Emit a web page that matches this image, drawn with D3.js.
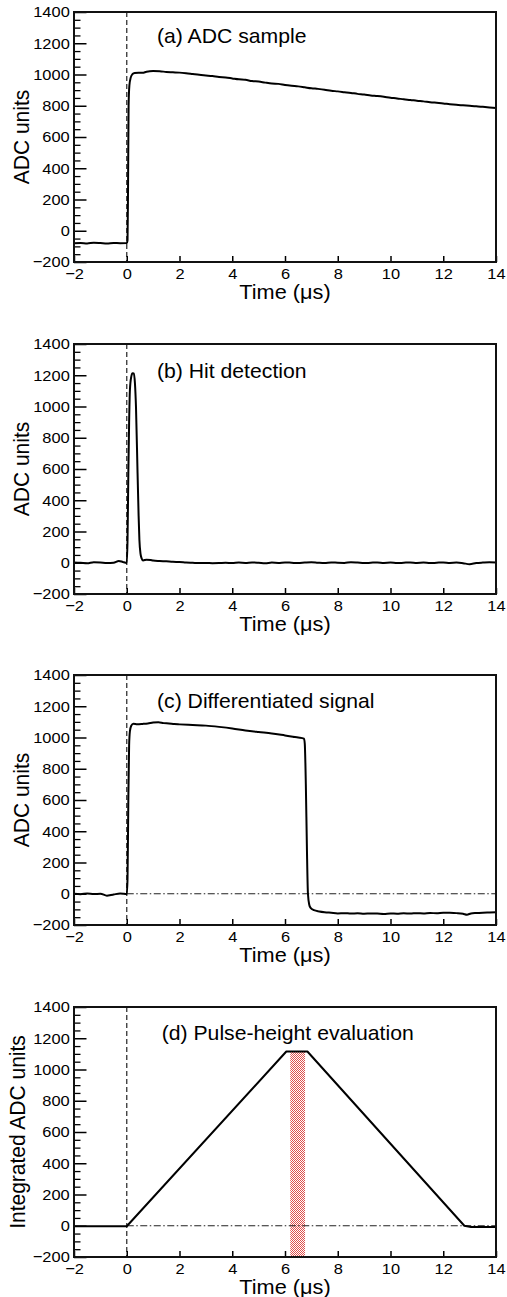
<!DOCTYPE html>
<html>
<head>
<meta charset="utf-8">
<script src="https://cdn.jsdelivr.net/npm/d3@7"></script>
<style>
  html, body { margin: 0; padding: 0; background: #fff; }
  svg { display: block; font-family: "Liberation Sans", Arial, Helvetica, sans-serif; }
</style>
</head>
<body>
<svg id="chart" width="507" height="1297"></svg>
<script>
// ---------------- DATA ----------------
const xTickValues = [-2, 0, 2, 4, 6, 8, 10, 12, 14];
const yTickValues = [-200, 0, 200, 400, 600, 800, 1000, 1200, 1400];
const panelLabels = ["(a) ADC sample", "(b) Hit detection", "(c) Differentiated signal", "(d) Pulse-height evaluation"];
const yTitles = ["ADC units", "ADC units", "ADC units", "Integrated ADC units"];
const xTitle = "Time (\u03bcs)";

// (a) ADC sample
const timeA = [-2, -1.75, -1.5, -1.25, -1, -0.75, -0.5, -0.25, 0, 0.03, 0.05, 0.07, 0.1, 0.15, 0.22, 0.3, 0.45, 0.6, 0.75, 1, 1.25, 1.5, 1.75, 2, 2.25, 2.5, 2.75, 3, 3.25, 3.5, 3.75, 4, 4.25, 4.5, 4.75, 5, 5.25, 5.5, 5.75, 6, 6.25, 6.5, 6.75, 7, 7.25, 7.5, 7.75, 8, 8.25, 8.5, 8.75, 9, 9.25, 9.5, 9.75, 10, 10.25, 10.5, 10.75, 11, 11.25, 11.5, 11.75, 12, 12.25, 12.5, 12.75, 13, 13.25, 13.5, 13.75, 14];
const adcA = [-80, -78, -81, -77, -79, -82, -78, -80, -79, -60, 300, 800, 930, 980, 1003, 1010, 1012, 1011, 1018, 1022, 1021, 1016, 1014, 1012, 1008, 1003, 998, 994, 990, 984, 981, 975, 969, 966, 958, 955, 948, 942, 940, 933, 928, 924, 918, 912, 908, 903, 896, 892, 887, 882, 876, 872, 866, 862, 857, 851, 847, 841, 837, 832, 828, 823, 819, 815, 810, 806, 803, 800, 797, 793, 789, 785];

// (b) Hit detection
const timeB = [-2, -1.75, -1.5, -1.25, -1, -0.75, -0.5, -0.3, -0.15, -0.05, 0, 0.03, 0.06, 0.09, 0.12, 0.17, 0.22, 0.27, 0.31, 0.35, 0.41, 0.45, 0.48, 0.52, 0.56, 0.62, 0.75, 0.9, 1, 1.25, 1.5, 1.75, 2, 2.25, 2.5, 2.75, 3, 3.25, 3.5, 3.75, 4, 4.25, 4.5, 4.75, 5, 5.25, 5.5, 5.75, 6, 6.25, 6.5, 6.75, 7, 7.25, 7.5, 7.75, 8, 8.25, 8.5, 8.75, 9, 9.25, 9.5, 9.75, 10, 10.25, 10.5, 10.75, 11, 11.25, 11.5, 11.75, 12, 12.25, 12.5, 12.75, 13, 13.25, 13.5, 13.75, 14];
const adcB = [2, 0, -3, 4, 2, -2, 0, 12, 5, 0, -2, 150, 572, 900, 1106, 1190, 1213, 1212, 1150, 999, 572, 300, 146, 60, 30, 15, 20, 18, 14, 11, 9, 6, 5, 2, 0, -2, -1, -3, -2, 0, -2, 1, -1, 2, 0, -3, 1, -1, 2, 0, -2, 1, 3, 0, -2, 2, 0, -1, 3, 1, -2, 0, 2, -1, 1, -2, 0, 2, -1, 1, -2, 0, 2, -1, 1, -3, -9, -2, 1, 3, 2];

// (c) Differentiated signal
const timeC = [-2, -1.75, -1.5, -1.25, -1, -0.75, -0.6, -0.5, -0.25, -0.1, 0, 0.03, 0.06, 0.09, 0.12, 0.17, 0.25, 0.4, 0.6, 0.8, 1, 1.2, 1.4, 1.6, 1.8, 2, 2.5, 3, 3.5, 4, 4.5, 5, 5.5, 6, 6.3, 6.5, 6.72, 6.75, 6.79, 6.83, 6.87, 6.92, 6.97, 7.1, 7.3, 7.5, 7.75, 8, 8.25, 8.5, 8.75, 9, 9.25, 9.5, 9.75, 10, 10.25, 10.5, 10.75, 11, 11.25, 11.5, 11.75, 12, 12.25, 12.5, 12.75, 12.9, 13.05, 13.25, 13.5, 13.75, 14];
const adcC = [0, -3, 2, -2, 0, -12, -8, -5, 2, 0, -2, 100, 600, 950, 1040, 1075, 1088, 1085, 1087, 1090, 1096, 1098, 1092, 1090, 1086, 1084, 1080, 1076, 1068, 1058, 1045, 1035, 1026, 1013, 1005, 1000, 993, 960, 700, 300, 0, -70, -90, -105, -113, -118, -122, -126, -124, -127, -125, -128, -126, -127, -129, -126, -128, -125, -127, -124, -126, -123, -125, -121, -122, -124, -128, -134, -126, -123, -121, -120, -119];

// (d) Pulse-height evaluation
const timeD = [-2, 0, 6.05, 6.85, 12.8, 13.05, 14];
const adcD = [-3, -3, 1115, 1115, 0, -8, -8];

// evaluation window (hatched band) in panel (d)
const bandTime = [6.2, 6.76];
const bandTop = 1115;

// ---------------- LAYOUT ----------------
const SX = 1.06; // horizontal stretch of glyphs seen in the reference
const left = 74, right = 496, ph = 250;
const tops = [12, 344, 675, 1007];
const labelX = [157, 157, 157, 161.7];
const labelY = [43, 378, 708, 1040];
const yTitleX = [28.5, 28.5, 28.5, 25];

const panels = [
  { t: timeA, v: adcA, zeroLine: false, band: false },
  { t: timeB, v: adcB, zeroLine: false, band: false },
  { t: timeC, v: adcC, zeroLine: true, band: false },
  { t: timeD, v: adcD, zeroLine: true, band: true }
];

const svg = d3.select("#chart");
const defs = svg.append("defs");
const pat = defs.append("pattern")
  .attr("id", "hatch").attr("patternUnits", "userSpaceOnUse")
  .attr("width", 2).attr("height", 2);
pat.append("rect").attr("width", 2).attr("height", 2).attr("fill", "#ffffff");
pat.append("rect").attr("x", 0).attr("y", 0).attr("width", 1).attr("height", 1).attr("fill", "#e0504c");
pat.append("rect").attr("x", 1).attr("y", 1).attr("width", 1).attr("height", 1).attr("fill", "#e0504c");

const x = d3.scaleLinear().domain([-2, 14]).range([left, right]);
const fmt = d => d < 0 ? "\u2212" + Math.abs(d) : String(d);
const yMinor = d3.range(-200, 1401, 50).filter(d => d % 200 !== 0);

panels.forEach((p, i) => {
  const top = tops[i], bottom = top + ph;
  const y = d3.scaleLinear().domain([-200, 1400]).range([bottom, top]);
  const g = svg.append("g");

  // hatched band
  if (p.band) {
    g.append("rect")
      .attr("x", x(bandTime[0]))
      .attr("width", x(bandTime[1]) - x(bandTime[0]))
      .attr("y", y(bandTop))
      .attr("height", y(-200) - y(bandTop))
      .attr("fill", "url(#hatch)");
  }

  // dashed vertical line at t = 0
  g.append("line")
    .attr("x1", x(0)).attr("x2", x(0))
    .attr("y1", top).attr("y2", bottom)
    .attr("stroke", "#333").attr("stroke-width", 1.3)
    .attr("stroke-dasharray", "5,3");

  // dash-dot zero line
  if (p.zeroLine) {
    g.append("line")
      .attr("x1", x(0)).attr("x2", x(14))
      .attr("y1", y(0)).attr("y2", y(0))
      .attr("stroke", "#222").attr("stroke-width", 1.1)
      .attr("stroke-dasharray", "7,2.5,1.5,2.5");
  }

  // data line
  const line = d3.line()
    .x((d, k) => x(p.t[k]))
    .y(d => y(d))
    .curve(p.band ? d3.curveLinear : d3.curveMonotoneX);
  g.append("path")
    .attr("d", line(p.v))
    .attr("fill", "none")
    .attr("stroke", "#000")
    .attr("stroke-width", 2)
    .attr("stroke-linejoin", "round");

  // y axis major
  const ya = g.append("g").attr("transform", `translate(${left},0)`)
    .call(d3.axisLeft(y).tickValues(yTickValues).tickSize(-12.5).tickSizeOuter(0).tickPadding(4).tickFormat(fmt));
  ya.select(".domain").remove();
  ya.selectAll(".tick line").attr("stroke", "#000").attr("stroke-width", 1.5);
  ya.selectAll(".tick text")
    .attr("font-size", 15.5).attr("fill", "#000")
    .attr("font-family", "Liberation Sans, Arial, sans-serif")
    .attr("transform", `scale(${SX},1)`);

  // y axis minor
  const ym = g.append("g").attr("transform", `translate(${left},0)`)
    .call(d3.axisLeft(y).tickValues(yMinor).tickSize(-6.5).tickSizeOuter(0).tickFormat(""));
  ym.select(".domain").remove();
  ym.selectAll(".tick line").attr("stroke", "#000").attr("stroke-width", 1.3);

  // x axis
  const xa = g.append("g").attr("transform", `translate(0,${bottom})`)
    .call(d3.axisBottom(x).tickValues(xTickValues).tickSize(-6).tickSizeOuter(0).tickPadding(6).tickFormat(fmt));
  xa.select(".domain").remove();
  xa.selectAll(".tick line").attr("stroke", "#000").attr("stroke-width", 1.5);
  xa.selectAll(".tick text")
    .attr("font-size", 15.5).attr("fill", "#000")
    .attr("font-family", "Liberation Sans, Arial, sans-serif")
    .attr("transform", `scale(${SX},1)`);

  // frame
  g.append("rect")
    .attr("x", left).attr("y", top)
    .attr("width", right - left).attr("height", ph)
    .attr("fill", "none").attr("stroke", "#111").attr("stroke-width", 2);

  // panel label
  g.append("g").attr("transform", `translate(${labelX[i]},${labelY[i]})`)
    .append("text")
    .attr("transform", `scale(${SX},1)`)
    .attr("font-size", 20).attr("fill", "#000")
    .text(panelLabels[i]);

  // x title
  g.append("g").attr("transform", `translate(${(left + right) / 2},${bottom + 36.5})`)
    .append("text")
    .attr("transform", `scale(${SX},1)`)
    .attr("text-anchor", "middle")
    .attr("font-size", 20.5).attr("fill", "#000")
    .text(xTitle);

  // y title
  g.append("g").attr("transform", `translate(${yTitleX[i]},${top + ph / 2})`)
    .append("text")
    .attr("transform", `scale(${SX},1) rotate(-90)`)
    .attr("text-anchor", "middle")
    .attr("font-size", 21).attr("fill", "#000")
    .text(yTitles[i]);
});
</script>
</body>
</html>
